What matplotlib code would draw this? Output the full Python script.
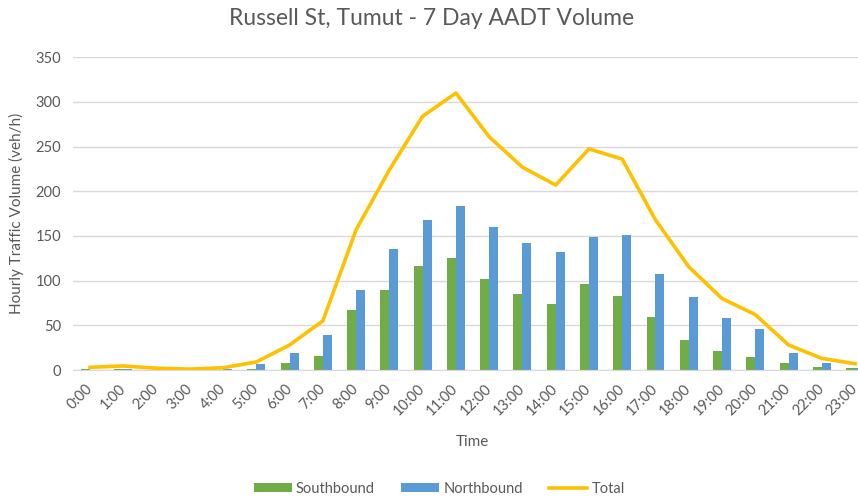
import numpy as np
import matplotlib.pyplot as plt

hours = [f'{h}:00' for h in range(24)]
southbound = [1, 1, 0.5, 0.3, 0.5, 1, 7.5, 15.5, 67, 90, 116, 125,
              102, 85, 73.5, 96, 83, 59, 33.5, 21.5, 14, 7.5, 3.7, 2]
northbound = [0.5, 1, 0.5, 0.3, 1.5, 7, 19, 39, 89, 135, 168, 184,
              160, 142, 132, 149, 151, 108, 82, 58, 45.5, 19, 7.5, 2.5]
total = [3, 4.5, 2, 1, 2.5, 9, 28, 55, 157, 224, 284, 310,
         261, 227, 207, 247.5, 236, 168, 115.5, 80, 62, 28, 13, 7]

plt.rcParams['font.family'] = ['Lato', 'DejaVu Sans']
txt = '#595959'

fig = plt.figure(figsize=(8.58, 5.01), dpi=100)
ax = fig.add_axes([73.4 / 858, 131 / 501, 798.3 / 858, 312.7 / 501])

x = np.arange(len(hours))
w = 0.27
b1 = ax.bar(x - w / 2, southbound, w, color='#70AD47', label='Southbound', zorder=2)
b2 = ax.bar(x + w / 2, northbound, w, color='#5B9BD5', label='Northbound', zorder=2)
l1, = ax.plot(x, total, color='#FFC000', lw=2.6, label='Total', zorder=3,
              solid_joinstyle='round')

ax.set_xlim(-0.5, 23.5)
ax.set_ylim(0, 350)
ax.set_yticks(range(0, 351, 50))
ax.yaxis.grid(True, color='#D9D9D9', lw=1)
ax.set_axisbelow(True)
for s in ['top', 'right', 'left']:
    ax.spines[s].set_visible(False)
ax.spines['bottom'].set_color('#D9D9D9')
ax.tick_params(length=0, colors=txt, labelsize=10.5)
ax.tick_params(axis='y', pad=9)
ax.set_xticks(x)
ax.set_xticklabels(hours, rotation=45, ha='right', va='center',
                   rotation_mode='anchor')
ax.tick_params(axis='x', pad=12)

ax.set_xlabel('Time', color=txt, fontsize=11, labelpad=12)
ax.set_ylabel('Hourly Traffic Volume (veh/h)', color=txt, fontsize=11,
              labelpad=8)
fig.text(0.503, 0.963, 'Russell St, Tumut - 7 Day AADT Volume', ha='center',
         va='center', fontsize=16.5, color=txt)

fig.legend([b1, b2, l1], ['Southbound', 'Northbound', 'Total'],
           loc='center', bbox_to_anchor=(0.512, 0.024), ncol=3, frameon=False,
           fontsize=10.5, labelcolor=txt, handlelength=2.6, handleheight=0.55,
           columnspacing=1.8, handletextpad=0.3)

fig.savefig('out.png', dpi=100)
